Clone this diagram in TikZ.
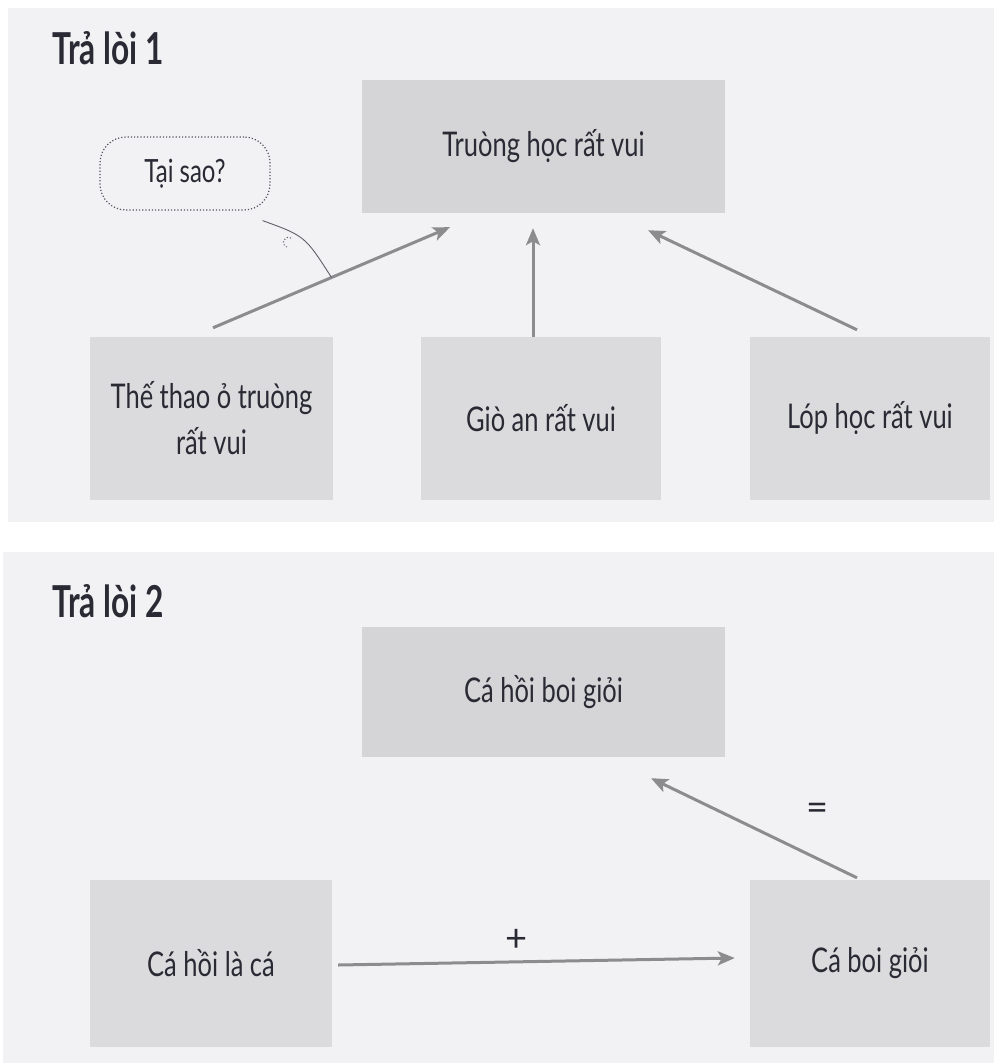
\documentclass[tikz,border=0pt]{standalone}
\usepackage{fontspec}
\setmainfont{Lato}[FakeStretch=0.75]
\newfontfamily\headfont{Lato}[FakeStretch=0.72]
\newfontfamily\signfont{Lato}
\usetikzlibrary{arrows.meta,calc}

\definecolor{panelbg}{HTML}{F2F2F4}
\definecolor{boxfill}{HTML}{DBDBDD}
\definecolor{boxtop}{HTML}{D5D5D7}
\definecolor{arrowgray}{HTML}{8C8C8E}
\definecolor{inkc}{HTML}{2A2A35}

\tikzset{
  box/.style={fill=boxfill, draw=none, inner sep=0pt, align=center,
    text=inkc, font=\fontsize{34}{46}\selectfont},
  topbox/.style={box, fill=boxtop},
  link/.style={draw=arrowgray, line width=3pt,
    -{Stealth[length=17pt,width=14pt,inset=4pt]}},
  heading/.style={anchor=west, text=inkc, inner sep=0pt,
    font=\headfont\fontsize{44}{48}\bfseries\selectfont},
  bubble/.style={draw=inkc!80, dotted, line width=1.2pt, rounded corners=26pt,
    minimum width=170pt, minimum height=73pt, text=inkc,
    font=\fontsize{32}{36}\selectfont},
  signlabel/.style={text=inkc, inner sep=0pt, font=\signfont\fontsize{38}{40}\selectfont}
}

\begin{document}
\begin{tikzpicture}[x=1pt,y=-1pt]
  \useasboundingbox (0,0) rectangle (994,1063);
  \fill[white] (0,0) rectangle (994,1063);

  % two answer panels
  \fill[panelbg] (8,8) rectangle (994,522);
  \fill[panelbg] (3,552) rectangle (994,1063);

  % ---- answer 1 ----
  \node[heading] (h1) at (52,48) {Trả lòi 1};

  \node[topbox, minimum width=363pt, minimum height=133pt] (top1) at (543.5,146.5) {Truòng học rất vui};
  \node[box, minimum width=243pt, minimum height=163pt] (l1) at (211.5,418.5) {Thế thao ỏ truòng\\rất vui};
  \node[box, minimum width=240pt, minimum height=163pt] (m1) at (541,418.5) {Giò an rất vui};
  \node[box, minimum width=240pt, minimum height=163pt] (r1) at (870,418.5) {Lóp học rất vui};

  \draw[link] ($(l1.north)+(1.5,-9)$) -- coordinate[pos=0.5] (hit) ($(top1.south)+(-93.5,14)$);
  \draw[link] ($(m1.north)+(-8,0)$) -- ($(top1.south)+(-10.5,15)$);
  \draw[link] ($(r1.north)+(-13,-7)$) -- ($(top1.south)+(104.5,17)$);

  % question bubble pointing at the left arrow
  \node[bubble] (why) at (185,173.5) {Tại sao?};
  \coordinate (tail) at ($(why.south east)+(-8,10)$);
  \draw[inkc!75, line width=0.9pt] (tail) .. controls (305,236) .. (hit);
  \draw[inkc!75, dotted, line width=1.1pt] (291,238) arc[start angle=60, end angle=250, radius=5pt];

  % ---- answer 2 ----
  \node[heading] (h2) at (52,601) {Trả lòi 2};

  \node[topbox, minimum width=363pt, minimum height=130pt] (top2) at (543.5,692) {Cá hồi boi giỏi};
  \node[box, minimum width=242pt, minimum height=167pt] (l2) at (211,963.5) {Cá hồi là cá};
  \node[box, minimum width=240pt, minimum height=167pt] (r2) at (870,963.5) {Cá boi giỏi};

  \draw[link] ($(l2.east)+(6,1.5)$) -- ($(r2.west)+(-15,-5.5)$);
  \draw[link] ($(r2.north)+(-13,-2)$) -- ($(top2.south)+(107.5,21)$);

  \node[signlabel] (plus) at (517,940) {+};
  \node[signlabel] (equal) at (818,812) {=};
\end{tikzpicture}
\end{document}
